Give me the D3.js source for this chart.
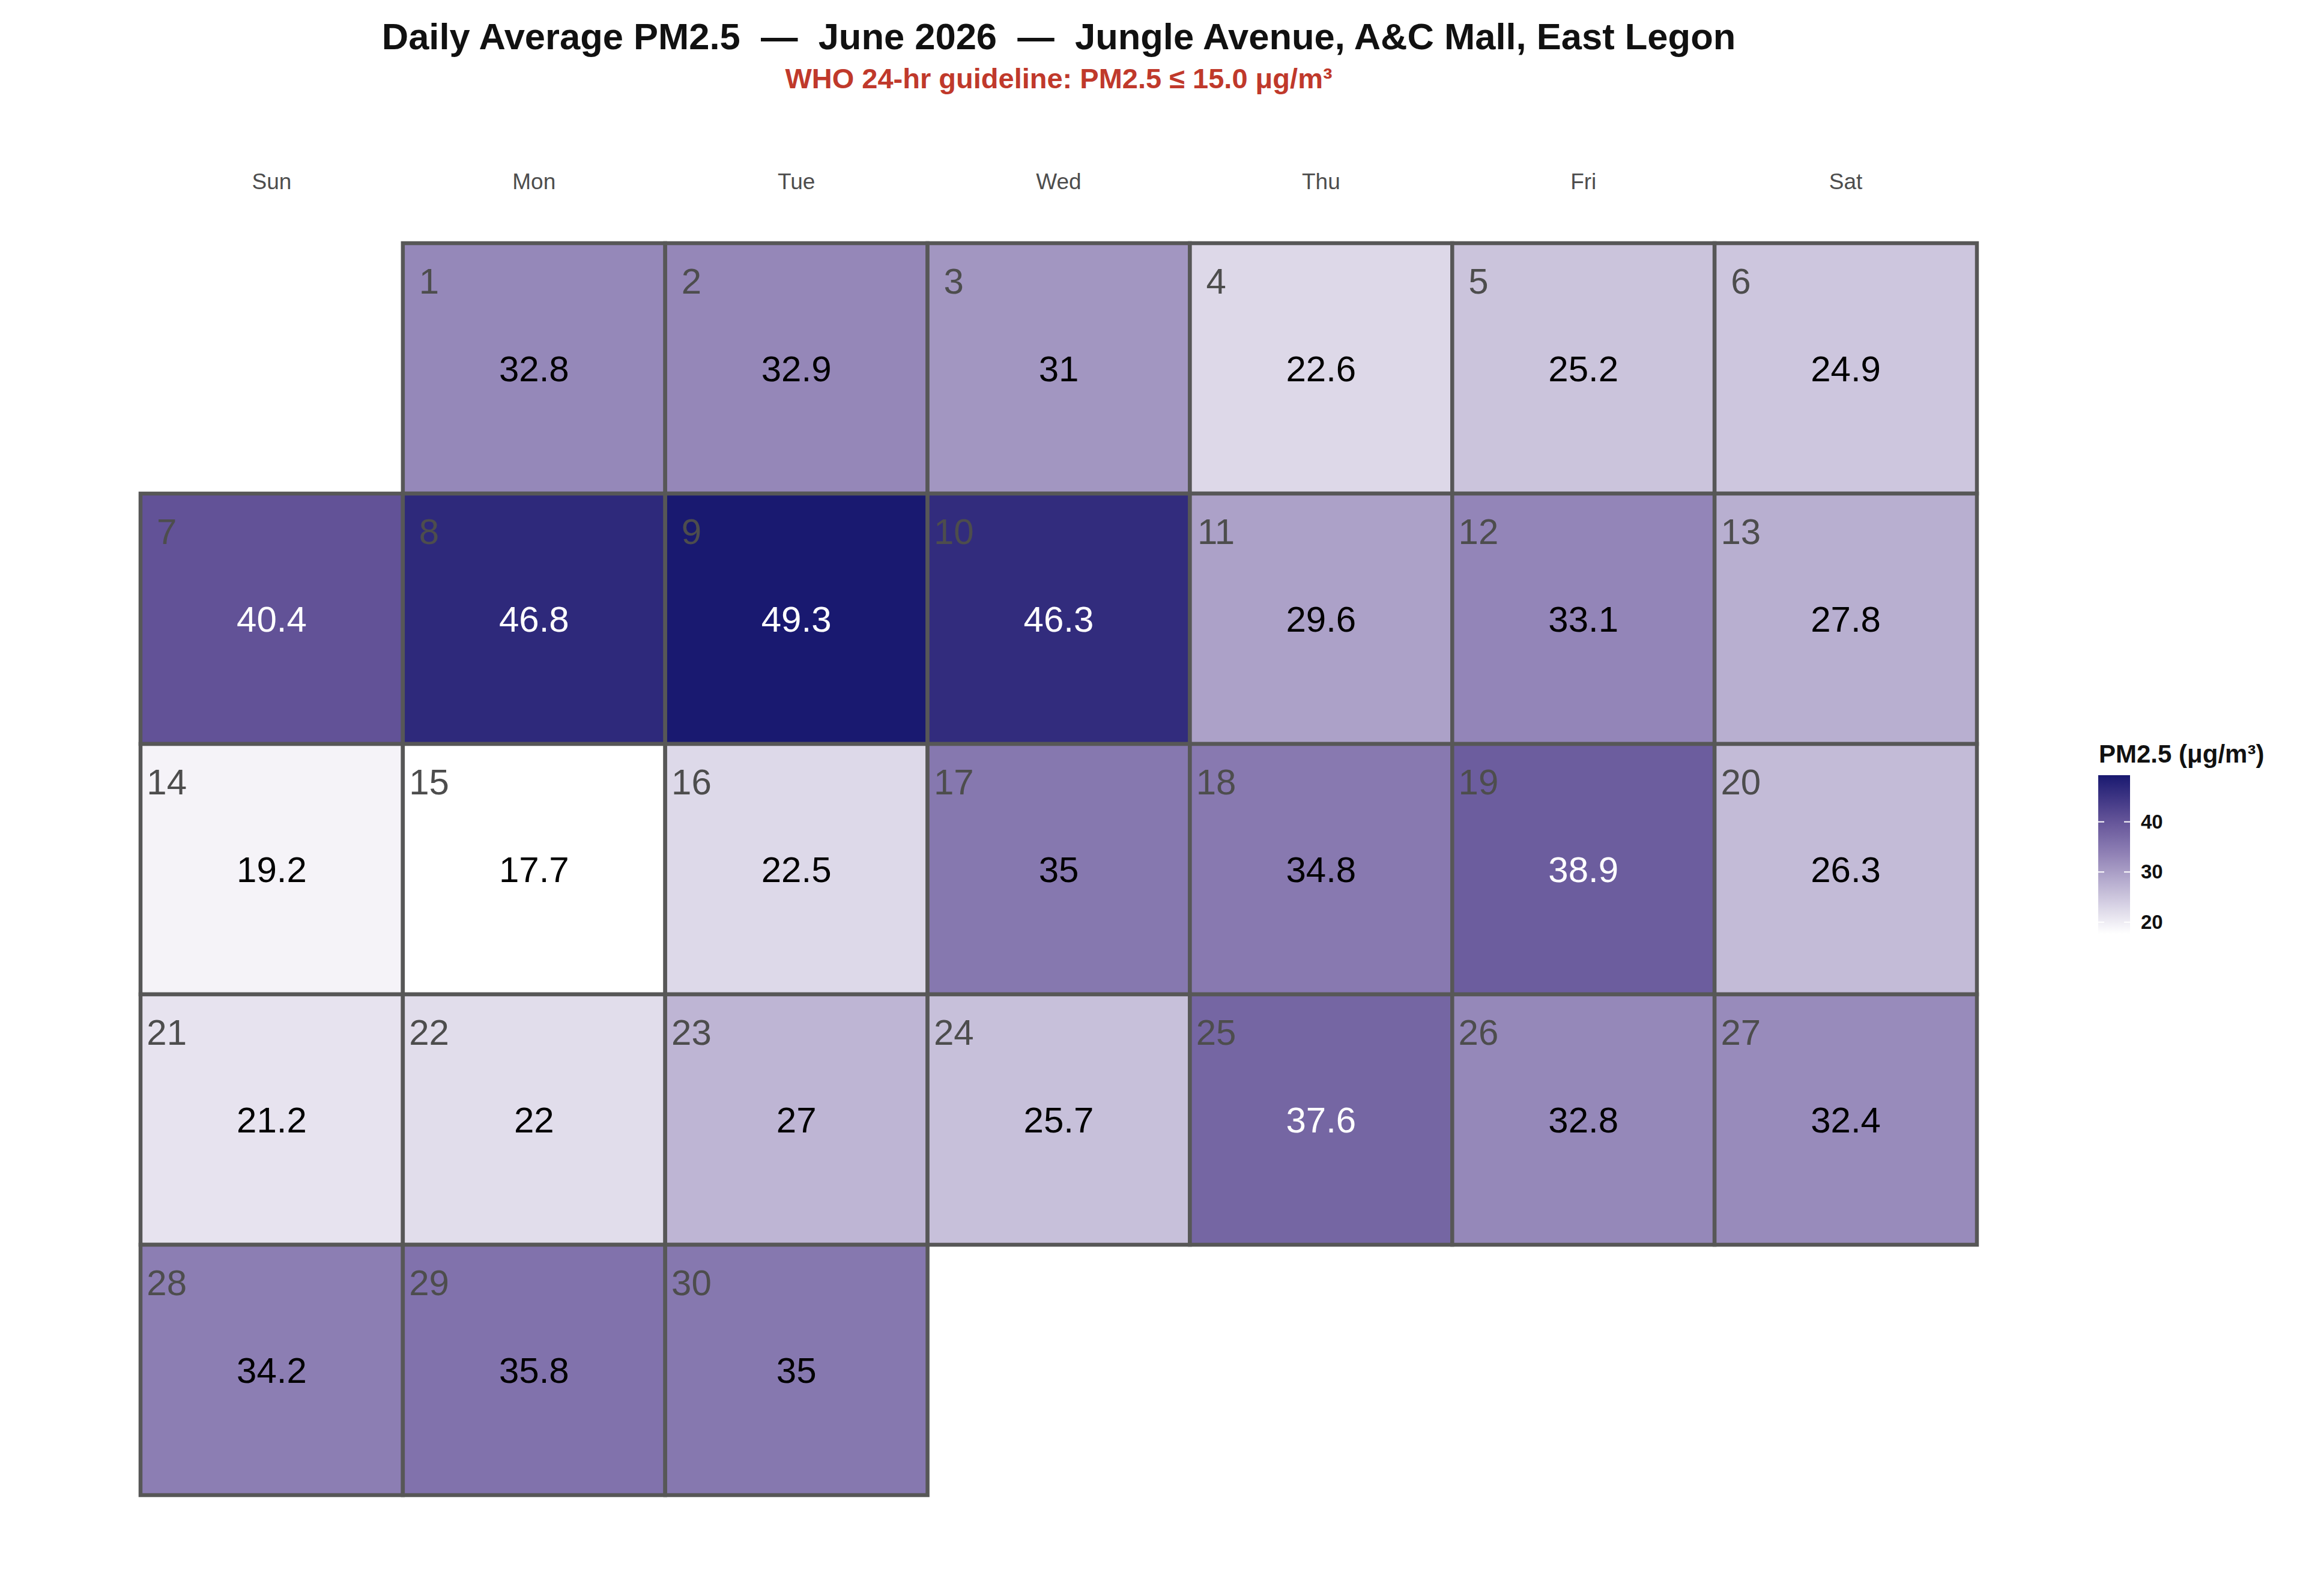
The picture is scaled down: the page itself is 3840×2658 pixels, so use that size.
<!DOCTYPE html>
<html>
<head>
<meta charset="utf-8">
<script src="https://cdn.jsdelivr.net/npm/d3@7"></script>
<style>
  html, body { margin: 0; padding: 0; background: #ffffff; }
  svg text { font-family: "Liberation Sans", Arial, sans-serif; }
</style>
</head>
<body>
<div id="chart"></div>
<script>
// ===== data =====
var dayNums = [1,2,3,4,5,6,7,8,9,10,11,12,13,14,15,16,17,18,19,20,21,22,23,24,25,26,27,28,29,30];
var pm25 = [32.8,32.9,31,22.6,25.2,24.9,40.4,46.8,49.3,46.3,29.6,33.1,27.8,19.2,17.7,
            22.5,35,34.8,38.9,26.3,21.2,22,27,25.7,37.6,32.8,32.4,34.2,35.8,35];
var weekdays = ["Sun","Mon","Tue","Wed","Thu","Fri","Sat"];
var firstWeekday = 1; // June 1 2026 is a Monday
var legendTicks = [20, 30, 40];
var titleText = "Daily Average PM2.5  \u2014  June 2026  \u2014  Jungle Avenue, A&C Mall, East Legon";
var subtitleText = "WHO 24-hr guideline: PM2.5 \u2264 15.0 \u03bcg/m\u00b3";
var legendTitle = "PM2.5 (\u03bcg/m\u00b3)";

var W = 3840, H = 2658;

var svg = d3.select("#chart")
    .append("svg")
    .attr("width", W)
    .attr("height", H)

// cell records: weekday column and week row
var cells = dayNums.map(function(d, i){
    var idx = d - 1 + firstWeekday;
    return {day: d, value: pm25[i], col: idx % 7, week: Math.floor(idx / 7) + 1};
});

var nWeeks = d3.max(cells, function(d){ return d.week });

// scales
var xScale = d3.scaleLinear().domain([0.5, 7.5]).range([234, 3292])
var yScale = d3.scaleLinear().domain([0.5, nWeeks + 0.5]).range([405, 2490])
var dayBand = d3.scaleBand().domain(weekdays).range([234, 3292])

var ext = d3.extent(pm25)
var color = d3.scaleLinear()
    .domain([ext[0], 33, 40.4, ext[1]])
    .range(["#ffffff", "#9486b8", "#625297", "#191970"])

var cw = xScale(1) - xScale(0)
var ch = yScale(1) - yScale(0)

// title + subtitle
var midX = (xScale.range()[0] + xScale.range()[1]) / 2
svg.append("text")
    .text(titleText)
    .attr("x", midX)
    .attr("y", 82)
    .attr("text-anchor", "middle")
    .attr("font-size", "61.5px")
    .attr("font-weight", "bold")
    .attr("fill", "#111111")
    .style("white-space", "pre")

svg.append("text")
    .text(subtitleText)
    .attr("x", midX)
    .attr("y", 147)
    .attr("text-anchor", "middle")
    .attr("font-size", "47px")
    .attr("font-weight", "bold")
    .attr("fill", "#C0392B")

// weekday header
svg.selectAll(".wday")
    .data(weekdays)
    .enter()
    .append("text")
    .attr("class", "wday")
    .text(function(d){ return d })
    .attr("x", function(d){ return dayBand(d) + dayBand.bandwidth() / 2 })
    .attr("y", 315)
    .attr("text-anchor", "middle")
    .attr("font-size", "37px")
    .attr("fill", "#4d4d4d")

// tiles
svg.selectAll(".tile")
    .data(cells)
    .enter()
    .append("rect")
    .attr("class", "tile")
    .attr("x", function(d){ return xScale(d.col + 0.5) })
    .attr("y", function(d){ return yScale(d.week - 0.5) })
    .attr("width", cw)
    .attr("height", ch)
    .attr("fill", function(d){ return color(d.value) })
    .attr("stroke", "#575757")
    .attr("stroke-width", 6.5)

// day numbers (top-left)
svg.selectAll(".dnum")
    .data(cells)
    .enter()
    .append("text")
    .attr("class", "dnum")
    .text(function(d){ return d.day })
    .attr("x", function(d){ return xScale(d.col + 1 - 0.4) })
    .attr("y", function(d){ return yScale(d.week - 0.35) })
    .attr("dy", "0.35em")
    .attr("text-anchor", "middle")
    .attr("font-size", "60px")
    .attr("fill", "#4d4d4d")

// values (centre)
svg.selectAll(".val")
    .data(cells)
    .enter()
    .append("text")
    .attr("class", "val")
    .text(function(d){ return String(d.value) })
    .attr("x", function(d){ return xScale(d.col + 1) })
    .attr("y", function(d){ return yScale(d.week) })
    .attr("dy", "0.35em")
    .attr("text-anchor", "middle")
    .attr("font-size", "60px")
    .attr("fill", function(d){ return d.value > 37 ? "#ffffff" : "#000000" })

// ===== legend =====
var legX = 3494, legW = 53
var legScale = d3.scaleLinear().domain(ext).range([1555, 1291])

var grad = svg.append("defs").append("linearGradient")
    .attr("id", "pmgrad")
    .attr("x1", "0").attr("y1", "1").attr("x2", "0").attr("y2", "0")
var stops = d3.range(0, 1.0001, 0.05)
grad.selectAll("stop")
    .data(stops)
    .enter()
    .append("stop")
    .attr("offset", function(t){ return t })
    .attr("stop-color", function(t){ return color(ext[0] + t * (ext[1] - ext[0])) })

svg.append("text")
    .text(legendTitle)
    .attr("x", 3495)
    .attr("y", 1270)
    .attr("font-size", "42px")
    .attr("font-weight", "bold")
    .attr("fill", "#111111")

svg.append("rect")
    .attr("x", legX)
    .attr("y", legScale.range()[1])
    .attr("width", legW)
    .attr("height", legScale.range()[0] - legScale.range()[1])
    .attr("fill", "url(#pmgrad)")

// white tick marks on both edges
legendTicks.forEach(function(t){
    svg.append("line")
        .attr("x1", legX).attr("x2", legX + 10)
        .attr("y1", legScale(t)).attr("y2", legScale(t))
        .attr("stroke", "#ffffff").attr("stroke-width", 2)
    svg.append("line")
        .attr("x1", legX + legW - 10).attr("x2", legX + legW)
        .attr("y1", legScale(t)).attr("y2", legScale(t))
        .attr("stroke", "#ffffff").attr("stroke-width", 2)
})

var legAxis = svg.append("g")
    .attr("transform", "translate(" + (legX + legW) + ",0)")
    .call(d3.axisRight(legScale).tickValues(legendTicks).tickSize(0).tickPadding(18))
legAxis.select(".domain").remove()
legAxis.selectAll("text")
    .attr("font-size", "33px")
    .attr("font-weight", "bold")
    .attr("font-family", "Liberation Sans, Arial, sans-serif")
    .attr("fill", "#111111")
</script>
</body>
</html>
